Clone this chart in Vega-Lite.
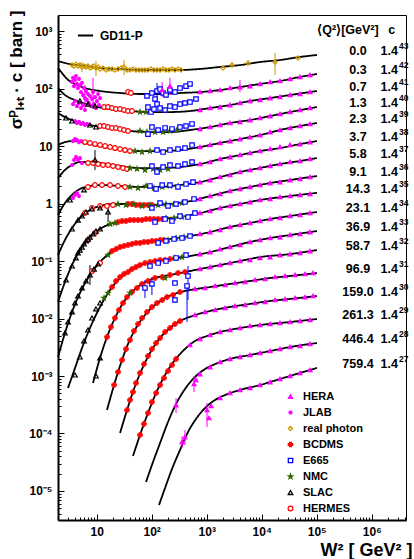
{
"$schema":"https://vega.github.io/schema/vega-lite/v6.json",
"width":348,"height":505,
"autosize":{"type":"none"},
"padding":{"left":58,"top":15,"right":8,"bottom":39},
"background":"white",
"config":{"view":{"stroke":"#000","strokeWidth":1},"font":"Liberation Sans","text":{"font":"Liberation Sans"}},
"datasets":{
"curves":[
{"q":"0.0","w":1.98,"s":301},{"q":"0.0","w":3.27,"s":266},{"q":"0.0","w":6.12,"s":246},{"q":"0.0","w":11.5,"s":227},{"q":"0.0","w":26.6,"s":218},{"q":"0.0","w":61.3,"s":210},{"q":"0.0","w":142,"s":210},{"q":"0.0","w":327,"s":210},{"q":"0.0","w":755,"s":219},{"q":"0.0","w":1750,"s":237},{"q":"0.0","w":4030,"s":256},{"q":"0.0","w":9310,"s":289},{"q":"0.0","w":21500,"s":313},{"q":"0.0","w":49700,"s":354},{"q":"0.0","w":101000,"s":383,"n":"43"},
{"q":"0.3","w":1.98,"s":227},{"q":"0.3","w":2.34,"s":186},{"q":"0.3","w":2.88,"s":147},{"q":"0.3","w":4.03,"s":120},{"q":"0.3","w":6.12,"s":102},{"q":"0.3","w":11.5,"s":90.5},{"q":"0.3","w":26.6,"s":83.6},{"q":"0.3","w":61.3,"s":80.3},{"q":"0.3","w":142,"s":80.3},{"q":"0.3","w":327,"s":83.6},{"q":"0.3","w":755,"s":86.9},{"q":"0.3","w":1750,"s":94.2},{"q":"0.3","w":4030,"s":106},{"q":"0.3","w":9310,"s":120},{"q":"0.3","w":21500,"s":135},{"q":"0.3","w":49700,"s":159},{"q":"0.3","w":101000,"s":179,"n":"42"},
{"q":"0.7","w":1.98,"s":102},{"q":"0.7","w":2.65,"s":77.1},{"q":"0.7","w":4.03,"s":63.1},{"q":"0.7","w":7.55,"s":51.6},{"q":"0.7","w":17.5,"s":44.0},{"q":"0.7","w":40.3,"s":40.6},{"q":"0.7","w":93.1,"s":39.0},{"q":"0.7","w":215,"s":39.0},{"q":"0.7","w":497,"s":40.6},{"q":"0.7","w":1150,"s":45.8},{"q":"0.7","w":2650,"s":51.6},{"q":"0.7","w":6120,"s":60.6},{"q":"0.7","w":14200,"s":68.3},{"q":"0.7","w":32700,"s":77.1},{"q":"0.7","w":101000,"s":90.5,"n":"41"},
{"q":"1.3","w":1.98,"s":37.5},{"q":"1.3","w":2.65,"s":31.9},{"q":"1.3","w":4.03,"s":27.2},{"q":"1.3","w":7.55,"s":23.2},{"q":"1.3","w":17.5,"s":20.6},{"q":"1.3","w":40.3,"s":18.3},{"q":"1.3","w":93.1,"s":17.5},{"q":"1.3","w":215,"s":17.5},{"q":"1.3","w":497,"s":19.0},{"q":"1.3","w":1150,"s":21.4},{"q":"1.3","w":2650,"s":25.1},{"q":"1.3","w":6120,"s":28.3},{"q":"1.3","w":14200,"s":33.2},{"q":"1.3","w":32700,"s":39.0},{"q":"1.3","w":101000,"s":47.6,"n":"40"},
{"q":"2.3","w":1.98,"s":10.4},{"q":"2.3","w":2.65,"s":11.7},{"q":"2.3","w":3.71,"s":12.2},{"q":"2.3","w":6.12,"s":11.3},{"q":"2.3","w":11.5,"s":9.99},{"q":"2.3","w":26.6,"s":8.86},{"q":"2.3","w":61.3,"s":8.18},{"q":"2.3","w":142,"s":8.18},{"q":"2.3","w":327,"s":8.51},{"q":"2.3","w":755,"s":9.60},{"q":"2.3","w":1750,"s":11.3},{"q":"2.3","w":4030,"s":13.2},{"q":"2.3","w":9310,"s":15.5},{"q":"2.3","w":21500,"s":19.0},{"q":"2.3","w":49700,"s":22.3},{"q":"2.3","w":101000,"s":25.1,"n":"39"},
{"q":"3.7","w":1.98,"s":2.77},{"q":"3.7","w":2.65,"s":3.83},{"q":"3.7","w":3.56,"s":4.67},{"q":"3.7","w":4.96,"s":5.27},{"q":"3.7","w":7.55,"s":5.27},{"q":"3.7","w":11.5,"s":5.06},{"q":"3.7","w":26.6,"s":4.49},{"q":"3.7","w":61.3,"s":4.14},{"q":"3.7","w":142,"s":4.14},{"q":"3.7","w":327,"s":4.31},{"q":"3.7","w":755,"s":4.86},{"q":"3.7","w":1750,"s":5.94},{"q":"3.7","w":4030,"s":6.97},{"q":"3.7","w":9310,"s":8.18},{"q":"3.7","w":21500,"s":9.22},{"q":"3.7","w":49700,"s":10.8},{"q":"3.7","w":101000,"s":12.2,"n":"38"},
{"q":"5.8","w":1.98,"s":0.631},{"q":"5.8","w":2.65,"s":1.02},{"q":"5.8","w":3.56,"s":1.41},{"q":"5.8","w":4.96,"s":1.79},{"q":"5.8","w":7.55,"s":2.02},{"q":"5.8","w":11.5,"s":2.10},{"q":"5.8","w":26.6,"s":2.02},{"q":"5.8","w":61.3,"s":1.94},{"q":"5.8","w":142,"s":1.94},{"q":"5.8","w":327,"s":2.10},{"q":"5.8","w":755,"s":2.36},{"q":"5.8","w":1750,"s":2.89},{"q":"5.8","w":4030,"s":3.54},{"q":"5.8","w":9310,"s":4.15},{"q":"5.8","w":21500,"s":4.86},{"q":"5.8","w":49700,"s":5.49},{"q":"5.8","w":101000,"s":6.18,"n":"37"},
{"q":"9.1","w":1.98,"s":0.127},{"q":"9.1","w":2.65,"s":0.232},{"q":"9.1","w":3.56,"s":0.375},{"q":"9.1","w":4.96,"s":0.559},{"q":"9.1","w":7.55,"s":0.771},{"q":"9.1","w":11.5,"s":0.905},{"q":"9.1","w":21.5,"s":0.981},{"q":"9.1","w":40.3,"s":0.981},{"q":"9.1","w":93.1,"s":0.942},{"q":"9.1","w":215,"s":0.981},{"q":"9.1","w":497,"s":1.10},{"q":"9.1","w":1150,"s":1.35},{"q":"9.1","w":2650,"s":1.65},{"q":"9.1","w":6120,"s":1.94},{"q":"9.1","w":14200,"s":2.27},{"q":"9.1","w":32700,"s":2.56},{"q":"9.1","w":101000,"s":3.01,"n":"36"},
{"q":"14.3","w":1.98,"s":0.0194},{"q":"14.3","w":2.65,"s":0.0431},{"q":"14.3","w":3.56,"s":0.0851},{"q":"14.3","w":4.96,"s":0.155},{"q":"14.3","w":7.55,"s":0.261},{"q":"14.3","w":11.5,"s":0.360},{"q":"14.3","w":17.5,"s":0.440},{"q":"14.3","w":32.7,"s":0.496},{"q":"14.3","w":61.3,"s":0.516},{"q":"14.3","w":142,"s":0.537},{"q":"14.3","w":327,"s":0.582},{"q":"14.3","w":755,"s":0.683},{"q":"14.3","w":1750,"s":0.835},{"q":"14.3","w":4030,"s":0.981},{"q":"14.3","w":9310,"s":1.15},{"q":"14.3","w":32700,"s":1.35},{"q":"14.3","w":101000,"s":1.53,"n":"35"},
{"q":"23.1","w":1.98,"s":0.00214},{"q":"23.1","w":2.65,"s":0.00559},{"q":"23.1","w":3.56,"s":0.0130},{"q":"23.1","w":4.96,"s":0.0277},{"q":"23.1","w":7.55,"s":0.0571},{"q":"23.1","w":11.5,"s":0.0960},{"q":"23.1","w":17.5,"s":0.138},{"q":"23.1","w":26.6,"s":0.175},{"q":"23.1","w":49.7,"s":0.206},{"q":"23.1","w":93.1,"s":0.223},{"q":"23.1","w":215,"s":0.242},{"q":"23.1","w":497,"s":0.272},{"q":"23.1","w":1150,"s":0.319},{"q":"23.1","w":2650,"s":0.390},{"q":"23.1","w":6120,"s":0.458},{"q":"23.1","w":14200,"s":0.537},{"q":"23.1","w":32700,"s":0.606},{"q":"23.1","w":101000,"s":0.712,"n":"34"},
{"q":"36.9","w":3.01,"s":0.000618},{"q":"36.9","w":4.03,"s":0.00137},{"q":"36.9","w":5.40,"s":0.00306},{"q":"36.9","w":7.55,"s":0.00683},{"q":"36.9","w":11.5,"s":0.0159},{"q":"36.9","w":17.5,"s":0.0313},{"q":"36.9","w":26.6,"s":0.0506},{"q":"36.9","w":40.3,"s":0.0697},{"q":"36.9","w":61.3,"s":0.0851},{"q":"36.9","w":115,"s":0.0999},{"q":"36.9","w":215,"s":0.108},{"q":"36.9","w":497,"s":0.122},{"q":"36.9","w":1150,"s":0.143},{"q":"36.9","w":2650,"s":0.175},{"q":"36.9","w":6120,"s":0.214},{"q":"36.9","w":14200,"s":0.251},{"q":"36.9","w":32700,"s":0.283},{"q":"36.9","w":101000,"s":0.332,"n":"33"},
{"q":"58.7","w":8.57,"s":0.000755},{"q":"58.7","w":11.5,"s":0.00206},{"q":"58.7","w":15.4,"s":0.00476},{"q":"58.7","w":21.5,"s":0.0102},{"q":"58.7","w":30.1,"s":0.0186},{"q":"58.7","w":43.8,"s":0.0289},{"q":"58.7","w":66.7,"s":0.0399},{"q":"58.7","w":115,"s":0.0506},{"q":"58.7","w":215,"s":0.0571},{"q":"58.7","w":403,"s":0.0643},{"q":"58.7","w":755,"s":0.0726},{"q":"58.7","w":1750,"s":0.0851},{"q":"58.7","w":4030,"s":0.0999},{"q":"58.7","w":9310,"s":0.117},{"q":"58.7","w":32700,"s":0.132},{"q":"58.7","w":101000,"s":0.155,"n":"32"},
{"q":"96.9","w":15.4,"s":0.000256},{"q":"96.9","w":20.7,"s":0.000697},{"q":"96.9","w":27.7,"s":0.00169},{"q":"96.9","w":37.1,"s":0.00360},{"q":"96.9","w":51.8,"s":0.00683},{"q":"96.9","w":75.5,"s":0.0115},{"q":"96.9","w":115,"s":0.0172},{"q":"96.9","w":175,"s":0.0227},{"q":"96.9","w":288,"s":0.0277},{"q":"96.9","w":497,"s":0.0313},{"q":"96.9","w":1150,"s":0.0353},{"q":"96.9","w":2650,"s":0.0399},{"q":"96.9","w":6120,"s":0.0449},{"q":"96.9","w":14200,"s":0.0506},{"q":"96.9","w":32700,"s":0.0549},{"q":"96.9","w":101000,"s":0.0618,"n":"31"},
{"q":"159.0","w":26.6,"s":0.000102},{"q":"159.0","w":35.6,"s":0.000256},{"q":"159.0","w":47.6,"s":0.000594},{"q":"159.0","w":66.7,"s":0.00132},{"q":"159.0","w":93.1,"s":0.00251},{"q":"159.0","w":142,"s":0.00458},{"q":"159.0","w":215,"s":0.00683},{"q":"159.0","w":327,"s":0.00905},{"q":"159.0","w":541,"s":0.0110},{"q":"159.0","w":1150,"s":0.0135},{"q":"159.0","w":2650,"s":0.0159},{"q":"159.0","w":6120,"s":0.0179},{"q":"159.0","w":14200,"s":0.0202},{"q":"159.0","w":32700,"s":0.0219},{"q":"159.0","w":101000,"s":0.0246,"n":"30"},
{"q":"261.3","w":45.7,"s":0.0000406},{"q":"261.3","w":61.3,"s":0.0000942},{"q":"261.3","w":85.6,"s":0.000227},{"q":"261.3","w":120,"s":0.000506},{"q":"261.3","w":175,"s":0.00104},{"q":"261.3","w":265,"s":0.00190},{"q":"261.3","w":403,"s":0.00295},{"q":"261.3","w":612,"s":0.00406},{"q":"261.3","w":1013,"s":0.00496},{"q":"261.3","w":1750,"s":0.00582},{"q":"261.3","w":4030,"s":0.00683},{"q":"261.3","w":9310,"s":0.00771},{"q":"261.3","w":32700,"s":0.00869},{"q":"261.3","w":101000,"s":0.00981,"n":"29"},
{"q":"446.4","w":78.8,"s":0.0000143},{"q":"446.4","w":101,"s":0.0000283},{"q":"446.4","w":142,"s":0.0000683},{"q":"446.4","w":198,"s":0.000159},{"q":"446.4","w":277,"s":0.000326},{"q":"446.4","w":403,"s":0.000594},{"q":"446.4","w":612,"s":0.000960},{"q":"446.4","w":932,"s":0.00132},{"q":"446.4","w":1420,"s":0.00161},{"q":"446.4","w":2650,"s":0.00198},{"q":"446.4","w":6120,"s":0.00232},{"q":"446.4","w":14200,"s":0.00272},{"q":"446.4","w":32700,"s":0.00319},{"q":"446.4","w":101000,"s":0.00375,"n":"28"},
{"q":"759.4","w":136,"s":0.00000571},{"q":"759.4","w":175,"s":0.0000113},{"q":"759.4","w":234,"s":0.0000242},{"q":"759.4","w":327,"s":0.0000516},{"q":"759.4","w":457,"s":0.000106},{"q":"759.4","w":639,"s":0.000179},{"q":"759.4","w":932,"s":0.000277},{"q":"759.4","w":1420,"s":0.000383},{"q":"759.4","w":2160,"s":0.000467},{"q":"759.4","w":4030,"s":0.000571},{"q":"759.4","w":9310,"s":0.000697},{"q":"759.4","w":21500,"s":0.000886},{"q":"759.4","w":49700,"s":0.00113},{"q":"759.4","w":101000,"s":0.00138,"n":"27"}
],
"pts":[
{"e":"real photon","w":3.56,"s":256},{"e":"real photon","w":3.87,"s":246},{"e":"real photon","w":4.20,"s":266},{"e":"real photon","w":4.57,"s":246},{"e":"real photon","w":4.96,"s":256},{"e":"real photon","w":5.40,"s":237,"lo":194,"hi":289},{"e":"real photon","w":5.88,"s":246},{"e":"real photon","w":6.39,"s":237},{"e":"real photon","w":6.95,"s":246},{"e":"real photon","w":7.55,"s":227},{"e":"real photon","w":8.21,"s":237},{"e":"real photon","w":8.93,"s":246},{"e":"real photon","w":9.71,"s":227,"lo":165,"hi":301},{"e":"real photon","w":10.6,"s":237},{"e":"real photon","w":11.5,"s":218},{"e":"real photon","w":13.0,"s":227},{"e":"real photon","w":14.8,"s":210},{"e":"real photon","w":16.7,"s":218},{"e":"real photon","w":19.0,"s":218},{"e":"real photon","w":21.5,"s":210},{"e":"real photon","w":24.4,"s":218},{"e":"real photon","w":27.7,"s":227},{"e":"real photon","w":31.4,"s":237,"lo":172,"hi":313},{"e":"real photon","w":35.6,"s":210},{"e":"real photon","w":40.3,"s":210},{"e":"real photon","w":45.7,"s":218},{"e":"real photon","w":51.8,"s":210},{"e":"real photon","w":58.8,"s":210},{"e":"real photon","w":66.7,"s":210},{"e":"real photon","w":75.5,"s":210},{"e":"real photon","w":85.6,"s":210},{"e":"real photon","w":97.1,"s":218},{"e":"real photon","w":110,"s":210},{"e":"real photon","w":125,"s":210},{"e":"real photon","w":142,"s":210},{"e":"real photon","w":161,"s":218},{"e":"real photon","w":182,"s":210},{"e":"real photon","w":206,"s":210},{"e":"real photon","w":234,"s":218},{"e":"real photon","w":265,"s":210},{"e":"real photon","w":301,"s":218},{"e":"real photon","w":341,"s":210},{"e":"real photon","w":1980,"s":227},{"e":"real photon","w":2880,"s":256,"lo":227,"hi":289},{"e":"real photon","w":5640,"s":277,"lo":246,"hi":313},{"e":"real photon","w":17500,"s":289,"lo":172,"hi":415},{"e":"real photon","w":45700,"s":339},
{"e":"JLAB","w":3.56,"s":130},{"e":"JLAB","w":3.71,"s":153},{"e":"JLAB","w":3.87,"s":110},{"e":"JLAB","w":4.03,"s":141},{"e":"JLAB","w":4.20,"s":165},{"e":"JLAB","w":4.38,"s":120},{"e":"JLAB","w":4.57,"s":102},{"e":"JLAB","w":4.77,"s":147},{"e":"JLAB","w":4.96,"s":115},{"e":"JLAB","w":5.18,"s":86.9},{"e":"JLAB","w":5.40,"s":125},{"e":"JLAB","w":5.63,"s":77.1},{"e":"JLAB","w":5.88,"s":102},{"e":"JLAB","w":6.12,"s":68.3,"lo":45.8,"hi":115},{"e":"JLAB","w":6.39,"s":90.5},{"e":"JLAB","w":6.66,"s":63.1},{"e":"JLAB","w":6.95,"s":80.3},{"e":"JLAB","w":7.24,"s":56.0},{"e":"JLAB","w":7.55,"s":74.1},{"e":"JLAB","w":7.88,"s":49.6},{"e":"JLAB","w":8.21,"s":65.7},{"e":"JLAB","w":8.57,"s":86.9,"lo":51.6,"hi":153},{"e":"JLAB","w":8.93,"s":53.7},{"e":"JLAB","w":9.31,"s":71.1},{"e":"JLAB","w":9.71,"s":45.8},{"e":"JLAB","w":10.1,"s":60.6},{"e":"JLAB","w":10.6,"s":80.3},{"e":"JLAB","w":11.0,"s":51.6},{"e":"JLAB","w":11.5,"s":68.3},
{"e":"JLAB","w":3.71,"s":53.7},{"e":"JLAB","w":4.03,"s":60.6},{"e":"JLAB","w":4.38,"s":49.6},{"e":"JLAB","w":4.77,"s":56.0},{"e":"JLAB","w":5.18,"s":45.8},{"e":"JLAB","w":5.63,"s":51.6},{"e":"JLAB","w":6.12,"s":42.3},
{"e":"JLAB","w":4.03,"s":27.2},{"e":"JLAB","w":4.38,"s":25.1},{"e":"JLAB","w":4.77,"s":26.2},{"e":"JLAB","w":5.18,"s":24.2},{"e":"JLAB","w":5.63,"s":25.1},{"e":"JLAB","w":6.12,"s":23.2},{"e":"JLAB","w":6.66,"s":24.2},
{"e":"JLAB","w":3.71,"s":12.2},{"e":"JLAB","w":4.03,"s":13.2},{"e":"JLAB","w":4.38,"s":12.7},{"e":"JLAB","w":4.77,"s":11.7},{"e":"JLAB","w":5.18,"s":12.2},
{"e":"JLAB","w":3.56,"s":4.67},{"e":"JLAB","w":3.87,"s":5.71},{"e":"JLAB","w":4.20,"s":6.43},{"e":"JLAB","w":4.57,"s":5.71},{"e":"JLAB","w":4.96,"s":6.18},{"e":"JLAB","w":5.40,"s":5.06},
{"e":"JLAB","w":3.71,"s":1.25},{"e":"JLAB","w":4.03,"s":1.41},{"e":"JLAB","w":4.38,"s":1.53},{"e":"JLAB","w":4.77,"s":1.35},
{"e":"HERMES","w":37.1,"s":86.9},{"e":"HERMES","w":42.0,"s":83.6},
{"e":"HERMES","w":13.6,"s":47.6},{"e":"HERMES","w":16.1,"s":47.6},{"e":"HERMES","w":19.0,"s":45.8},{"e":"HERMES","w":22.4,"s":44.0},{"e":"HERMES","w":26.6,"s":44.0},{"e":"HERMES","w":31.4,"s":42.3},{"e":"HERMES","w":37.1,"s":40.6},{"e":"HERMES","w":43.8,"s":40.6},
{"e":"HERMES","w":11.5,"s":22.3},{"e":"HERMES","w":13.6,"s":22.3},{"e":"HERMES","w":16.1,"s":21.4},{"e":"HERMES","w":19.0,"s":20.6},{"e":"HERMES","w":22.4,"s":20.6},{"e":"HERMES","w":26.6,"s":19.8},{"e":"HERMES","w":31.4,"s":19.0},{"e":"HERMES","w":37.1,"s":18.3},
{"e":"HERMES","w":6.12,"s":11.7},{"e":"HERMES","w":7.55,"s":11.3},{"e":"HERMES","w":9.31,"s":10.8},{"e":"HERMES","w":11.5,"s":10.4},{"e":"HERMES","w":14.2,"s":9.99},{"e":"HERMES","w":17.5,"s":9.60},{"e":"HERMES","w":21.5,"s":9.22},{"e":"HERMES","w":26.6,"s":8.86},{"e":"HERMES","w":32.7,"s":8.51},{"e":"HERMES","w":40.3,"s":8.18},
{"e":"HERMES","w":6.95,"s":5.06},{"e":"HERMES","w":8.57,"s":5.06},{"e":"HERMES","w":10.6,"s":4.86},{"e":"HERMES","w":13.0,"s":4.67},{"e":"HERMES","w":16.1,"s":4.67},{"e":"HERMES","w":19.8,"s":4.49},{"e":"HERMES","w":24.4,"s":4.31},{"e":"HERMES","w":30.1,"s":4.14},{"e":"HERMES","w":35.6,"s":3.99},
{"e":"HERMES","w":6.95,"s":1.94},{"e":"HERMES","w":9.31,"s":2.10},{"e":"HERMES","w":12.5,"s":2.10},{"e":"HERMES","w":17.5,"s":2.10},{"e":"HERMES","w":24.4,"s":2.02},{"e":"HERMES","w":32.7,"s":1.94},
{"e":"HERMES","w":6.12,"s":0.683},{"e":"HERMES","w":8.21,"s":0.835},{"e":"HERMES","w":11.5,"s":0.905},{"e":"HERMES","w":15.4,"s":0.905},{"e":"HERMES","w":19.8,"s":0.942},
{"e":"HERMES","w":6.95,"s":0.232},{"e":"HERMES","w":9.31,"s":0.307},
{"e":"HERMES","w":8.21,"s":0.0669},{"e":"HERMES","w":11.5,"s":0.0922},
{"e":"SLAC","w":4.96,"s":60.6},{"e":"SLAC","w":6.95,"s":53.7},{"e":"SLAC","w":9.31,"s":49.6},
{"e":"SLAC","w":2.77,"s":30.7},{"e":"SLAC","w":3.56,"s":27.2},{"e":"SLAC","w":7.55,"s":23.2},{"e":"SLAC","w":9.71,"s":21.4},
{"e":"SLAC","w":9.31,"s":5.71,"lo":3.83,"hi":8.51},
{"e":"SLAC","w":3.27,"s":1.15},{"e":"SLAC","w":5.88,"s":1.72},
{"e":"SLAC","w":3.56,"s":0.360},{"e":"SLAC","w":4.57,"s":0.516},{"e":"SLAC","w":5.40,"s":0.606},{"e":"SLAC","w":6.39,"s":0.712},{"e":"SLAC","w":8.21,"s":0.803},{"e":"SLAC","w":11.5,"s":0.835},{"e":"SLAC","w":16.1,"s":0.712,"lo":0.476,"hi":1.02},
{"e":"SLAC","w":2.77,"s":0.0467},{"e":"SLAC","w":3.56,"s":0.0818},{"e":"SLAC","w":4.20,"s":0.113},{"e":"SLAC","w":4.57,"s":0.138},{"e":"SLAC","w":4.96,"s":0.155},{"e":"SLAC","w":5.40,"s":0.175},{"e":"SLAC","w":5.88,"s":0.198},{"e":"SLAC","w":6.39,"s":0.223},{"e":"SLAC","w":6.95,"s":0.241},{"e":"SLAC","w":7.55,"s":0.261},{"e":"SLAC","w":8.57,"s":0.295},{"e":"SLAC","w":9.71,"s":0.332},{"e":"SLAC","w":11.5,"s":0.360},
{"e":"SLAC","w":2.65,"s":0.00559},{"e":"SLAC","w":3.01,"s":0.00869},{"e":"SLAC","w":3.56,"s":0.0130},{"e":"SLAC","w":4.03,"s":0.0186},{"e":"SLAC","w":4.57,"s":0.0246},{"e":"SLAC","w":5.40,"s":0.0340},{"e":"SLAC","w":6.39,"s":0.0449},{"e":"SLAC","w":7.55,"s":0.0571,"lo":0.0383,"hi":0.0851},{"e":"SLAC","w":8.93,"s":0.0725},{"e":"SLAC","w":10.6,"s":0.0886},
{"e":"SLAC","w":4.03,"s":0.00104},{"e":"SLAC","w":4.96,"s":0.00214},{"e":"SLAC","w":5.88,"s":0.00406},{"e":"SLAC","w":6.95,"s":0.00631},{"e":"SLAC","w":8.21,"s":0.0102},{"e":"SLAC","w":9.71,"s":0.0147},{"e":"SLAC","w":11.5,"s":0.0186},
{"e":"SLAC","w":9.71,"s":0.000999},{"e":"SLAC","w":11.5,"s":0.00206},
{"e":"BCDMS","w":37.1,"s":0.981},{"e":"BCDMS","w":43.8,"s":0.981},{"e":"BCDMS","w":51.8,"s":0.942},{"e":"BCDMS","w":61.3,"s":0.942},{"e":"BCDMS","w":72.4,"s":0.942},{"e":"BCDMS","w":85.6,"s":0.942},{"e":"BCDMS","w":101,"s":0.942},
{"e":"BCDMS","w":24.4,"s":0.476},{"e":"BCDMS","w":28.9,"s":0.496},{"e":"BCDMS","w":34.1,"s":0.496},{"e":"BCDMS","w":40.3,"s":0.516},{"e":"BCDMS","w":47.6,"s":0.516},{"e":"BCDMS","w":56.4,"s":0.516},{"e":"BCDMS","w":66.7,"s":0.516},{"e":"BCDMS","w":78.8,"s":0.537},{"e":"BCDMS","w":93.1,"s":0.537},{"e":"BCDMS","w":110,"s":0.537},{"e":"BCDMS","w":131,"s":0.537},{"e":"BCDMS","w":155,"s":0.537},
{"e":"BCDMS","w":19.0,"s":0.149},{"e":"BCDMS","w":22.4,"s":0.161},{"e":"BCDMS","w":26.6,"s":0.175},{"e":"BCDMS","w":31.4,"s":0.183},{"e":"BCDMS","w":37.1,"s":0.190},{"e":"BCDMS","w":43.8,"s":0.198},{"e":"BCDMS","w":51.8,"s":0.206},{"e":"BCDMS","w":61.3,"s":0.206},{"e":"BCDMS","w":72.4,"s":0.214},{"e":"BCDMS","w":85.6,"s":0.214},{"e":"BCDMS","w":101,"s":0.223},{"e":"BCDMS","w":120,"s":0.223},{"e":"BCDMS","w":142,"s":0.232},{"e":"BCDMS","w":167,"s":0.232},
{"e":"BCDMS","w":19.0,"s":0.0353},{"e":"BCDMS","w":22.4,"s":0.0449},{"e":"BCDMS","w":26.6,"s":0.0527},{"e":"BCDMS","w":31.4,"s":0.0594},{"e":"BCDMS","w":37.1,"s":0.0643},{"e":"BCDMS","w":43.8,"s":0.0725},{"e":"BCDMS","w":51.8,"s":0.0785},{"e":"BCDMS","w":61.3,"s":0.0851},{"e":"BCDMS","w":75.5,"s":0.0922},{"e":"BCDMS","w":93.1,"s":0.0960},{"e":"BCDMS","w":115,"s":0.0999},{"e":"BCDMS","w":142,"s":0.104},{"e":"BCDMS","w":175,"s":0.104},{"e":"BCDMS","w":215,"s":0.108},
{"e":"BCDMS","w":15.4,"s":0.00476},{"e":"BCDMS","w":18.2,"s":0.00712},{"e":"BCDMS","w":21.5,"s":0.0102},{"e":"BCDMS","w":25.4,"s":0.0141},{"e":"BCDMS","w":30.1,"s":0.0186},{"e":"BCDMS","w":35.6,"s":0.0236},{"e":"BCDMS","w":43.8,"s":0.0289},{"e":"BCDMS","w":54.0,"s":0.0340},{"e":"BCDMS","w":66.7,"s":0.0398},{"e":"BCDMS","w":85.6,"s":0.0449},{"e":"BCDMS","w":115,"s":0.0506},{"e":"BCDMS","w":155,"s":0.0527},{"e":"BCDMS","w":215,"s":0.0571},{"e":"BCDMS","w":301,"s":0.0618},{"e":"BCDMS","w":403,"s":0.0643},
{"e":"BCDMS","w":20.7,"s":0.000697},{"e":"BCDMS","w":24.4,"s":0.00117},{"e":"BCDMS","w":28.9,"s":0.00190},{"e":"BCDMS","w":34.1,"s":0.00295},{"e":"BCDMS","w":40.3,"s":0.00423},{"e":"BCDMS","w":47.6,"s":0.00606},{"e":"BCDMS","w":56.4,"s":0.00803},{"e":"BCDMS","w":66.7,"s":0.0102},{"e":"BCDMS","w":82.1,"s":0.0130},{"e":"BCDMS","w":101,"s":0.0159},{"e":"BCDMS","w":125,"s":0.0186},{"e":"BCDMS","w":155,"s":0.0210},{"e":"BCDMS","w":190,"s":0.0236},{"e":"BCDMS","w":244,"s":0.0256},{"e":"BCDMS","w":327,"s":0.0289},
{"e":"BCDMS","w":35.6,"s":0.000256},{"e":"BCDMS","w":40.3,"s":0.000383},{"e":"BCDMS","w":45.7,"s":0.000527},{"e":"BCDMS","w":51.8,"s":0.000755},{"e":"BCDMS","w":61.3,"s":0.00113},{"e":"BCDMS","w":72.4,"s":0.00161},{"e":"BCDMS","w":85.6,"s":0.00223},{"e":"BCDMS","w":101,"s":0.00295},{"e":"BCDMS","w":120,"s":0.00375},{"e":"BCDMS","w":142,"s":0.00458},{"e":"BCDMS","w":175,"s":0.00582},{"e":"BCDMS","w":215,"s":0.00683},{"e":"BCDMS","w":265,"s":0.00803},{"e":"BCDMS","w":327,"s":0.00905},
{"e":"BCDMS","w":61.3,"s":0.0000942},{"e":"BCDMS","w":72.4,"s":0.000147},{"e":"BCDMS","w":85.6,"s":0.000227},{"e":"BCDMS","w":101,"s":0.000353},{"e":"BCDMS","w":120,"s":0.000506},{"e":"BCDMS","w":142,"s":0.000697},{"e":"BCDMS","w":167,"s":0.000922},{"e":"BCDMS","w":198,"s":0.00122},{"e":"BCDMS","w":234,"s":0.00155},{"e":"BCDMS","w":277,"s":0.00198},
{"e":"NMC","w":61.3,"s":39.0},{"e":"NMC","w":78.8,"s":39.0},
{"e":"NMC","w":61.3,"s":18.3},{"e":"NMC","w":82.1,"s":17.5},{"e":"NMC","w":115,"s":17.5},{"e":"NMC","w":161,"s":17.5},{"e":"NMC","w":215,"s":18.3},{"e":"NMC","w":288,"s":19.0},
{"e":"NMC","w":49.7,"s":8.18},{"e":"NMC","w":66.7,"s":7.85},{"e":"NMC","w":93.1,"s":8.18},
{"e":"NMC","w":40.3,"s":4.14},{"e":"NMC","w":54.0,"s":3.99},{"e":"NMC","w":75.5,"s":3.83},{"e":"NMC","w":106,"s":3.99},{"e":"NMC","w":142,"s":3.83},{"e":"NMC","w":198,"s":3.99},
{"e":"NMC","w":40.3,"s":1.94},{"e":"NMC","w":56.4,"s":1.86},{"e":"NMC","w":78.8,"s":2.02},{"e":"NMC","w":110,"s":1.86},{"e":"NMC","w":155,"s":1.94},{"e":"NMC","w":215,"s":2.02},{"e":"NMC","w":301,"s":2.02},
{"e":"NMC","w":24.4,"s":0.981},{"e":"NMC","w":34.1,"s":0.942},{"e":"NMC","w":47.6,"s":0.981},{"e":"NMC","w":66.7,"s":0.905},{"e":"NMC","w":93.1,"s":0.942},{"e":"NMC","w":131,"s":0.942},{"e":"NMC","w":182,"s":0.981},{"e":"NMC","w":255,"s":0.981},{"e":"NMC","w":356,"s":1.02},
{"e":"NMC","w":17.5,"s":0.440},{"e":"NMC","w":21.5,"s":0.458},{"e":"NMC","w":182,"s":0.559},{"e":"NMC","w":255,"s":0.559},{"e":"NMC","w":356,"s":0.582},
{"e":"NMC","w":16.1,"s":0.127},{"e":"NMC","w":198,"s":0.232},{"e":"NMC","w":277,"s":0.251},{"e":"NMC","w":387,"s":0.261},
{"e":"NMC","w":13.6,"s":0.0227},{"e":"NMC","w":16.1,"s":0.0278},{"e":"NMC","w":265,"s":0.113},{"e":"NMC","w":356,"s":0.117},
{"e":"NMC","w":40.3,"s":0.0278},{"e":"NMC","w":175,"s":0.0506},
{"e":"E665","w":82.1,"s":74.1},{"e":"E665","w":101,"s":83.6},{"e":"E665","w":115,"s":65.7},{"e":"E665","w":125,"s":90.5,"lo":51.6,"hi":125},{"e":"E665","w":142,"s":98.0},{"e":"E665","w":161,"s":83.6},{"e":"E665","w":182,"s":77.1},{"e":"E665","w":215,"s":94.2},{"e":"E665","w":265,"s":86.9},{"e":"E665","w":327,"s":102},{"e":"E665","w":421,"s":110},{"e":"E665","w":497,"s":120},
{"e":"E665","w":85.6,"s":47.6},{"e":"E665","w":97.1,"s":39.0},{"e":"E665","w":110,"s":44.0},{"e":"E665","w":125,"s":53.7},{"e":"E665","w":142,"s":45.8},{"e":"E665","w":175,"s":42.3},{"e":"E665","w":215,"s":49.6},{"e":"E665","w":265,"s":47.6},{"e":"E665","w":327,"s":53.7},{"e":"E665","w":403,"s":56.0},{"e":"E665","w":497,"s":58.2},{"e":"E665","w":639,"s":65.7},
{"e":"E665","w":85.6,"s":16.1},{"e":"E665","w":101,"s":21.4},{"e":"E665","w":131,"s":19.0},{"e":"E665","w":175,"s":20.6},{"e":"E665","w":234,"s":19.8},{"e":"E665","w":327,"s":21.4},{"e":"E665","w":421,"s":22.3},{"e":"E665","w":541,"s":24.2},
{"e":"E665","w":125,"s":8.51},{"e":"E665","w":161,"s":7.85},{"e":"E665","w":215,"s":8.51},{"e":"E665","w":301,"s":8.86},{"e":"E665","w":403,"s":9.22},{"e":"E665","w":541,"s":10.4},
{"e":"E665","w":101,"s":4.49},{"e":"E665","w":125,"s":3.54},{"e":"E665","w":161,"s":4.31},{"e":"E665","w":215,"s":4.67},{"e":"E665","w":301,"s":4.49},{"e":"E665","w":403,"s":4.86},{"e":"E665","w":541,"s":5.27},
{"e":"E665","w":93.1,"s":2.02},{"e":"E665","w":120,"s":1.79},{"e":"E665","w":155,"s":2.10},{"e":"E665","w":215,"s":2.10},{"e":"E665","w":301,"s":1.94},{"e":"E665","w":421,"s":2.18},{"e":"E665","w":564,"s":2.36},
{"e":"E665","w":101,"s":0.835},{"e":"E665","w":142,"s":1.02},{"e":"E665","w":198,"s":0.905},{"e":"E665","w":277,"s":0.981},{"e":"E665","w":403,"s":1.06},{"e":"E665","w":588,"s":1.20},
{"e":"E665","w":115,"s":0.476},{"e":"E665","w":175,"s":0.537},{"e":"E665","w":234,"s":0.496},{"e":"E665","w":327,"s":0.606},{"e":"E665","w":457,"s":0.582},{"e":"E665","w":612,"s":0.683},
{"e":"E665","w":131,"s":0.206},{"e":"E665","w":182,"s":0.223},{"e":"E665","w":255,"s":0.241},{"e":"E665","w":356,"s":0.251},{"e":"E665","w":497,"s":0.272},
{"e":"E665","w":93.1,"s":0.0818},{"e":"E665","w":131,"s":0.0922},{"e":"E665","w":182,"s":0.0999},{"e":"E665","w":277,"s":0.113},{"e":"E665","w":421,"s":0.127},
{"e":"E665","w":75.5,"s":0.0340,"lo":0.0227,"hi":0.0467},{"e":"E665","w":101,"s":0.0398,"lo":0.0256,"hi":0.0527},{"e":"E665","w":265,"s":0.0414},{"e":"E665","w":457,"s":0.0548,"lo":0.0210,"hi":0.0818},
{"e":"E665","w":439,"s":0.0368,"lo":0.00869,"hi":0.0414},{"e":"E665","w":265,"s":0.0210},
{"e":"HERA","w":755,"s":86.9},{"e":"HERA","w":1150,"s":90.5},{"e":"HERA","w":1750,"s":94.2},{"e":"HERA","w":2650,"s":102},{"e":"HERA","w":4030,"s":106,"lo":86.9,"hi":141},{"e":"HERA","w":6120,"s":110},{"e":"HERA","w":9310,"s":120},{"e":"HERA","w":14200,"s":130},{"e":"HERA","w":21500,"s":135},{"e":"HERA","w":32700,"s":147},{"e":"HERA","w":49700,"s":159},{"e":"HERA","w":75500,"s":172},{"e":"HERA","w":155,"s":94.2,"lo":71.1,"hi":130},{"e":"HERA","w":215,"s":110,"lo":77.1,"hi":153},
{"e":"HERA","w":755,"s":42.3},{"e":"HERA","w":1150,"s":45.8},{"e":"HERA","w":1750,"s":47.6},{"e":"HERA","w":2650,"s":51.6},{"e":"HERA","w":4030,"s":56.0},{"e":"HERA","w":6120,"s":60.6},{"e":"HERA","w":9310,"s":63.1},{"e":"HERA","w":14200,"s":68.3},{"e":"HERA","w":21500,"s":71.1},{"e":"HERA","w":32700,"s":77.1},{"e":"HERA","w":49700,"s":80.3},{"e":"HERA","w":75500,"s":86.9},
{"e":"HERA","w":755,"s":19.8},{"e":"HERA","w":1150,"s":21.4},{"e":"HERA","w":1750,"s":23.2},{"e":"HERA","w":2650,"s":25.1},{"e":"HERA","w":4030,"s":26.2},{"e":"HERA","w":6120,"s":28.3},{"e":"HERA","w":9310,"s":30.7},{"e":"HERA","w":14200,"s":33.2},{"e":"HERA","w":21500,"s":36.0},{"e":"HERA","w":32700,"s":39.0},{"e":"HERA","w":49700,"s":42.3},{"e":"HERA","w":75500,"s":45.8},
{"e":"HERA","w":755,"s":9.60},{"e":"HERA","w":1150,"s":10.4},{"e":"HERA","w":1750,"s":11.3},{"e":"HERA","w":2650,"s":12.2},{"e":"HERA","w":4030,"s":13.2},{"e":"HERA","w":6120,"s":14.3},{"e":"HERA","w":9310,"s":15.5},{"e":"HERA","w":14200,"s":17.5},{"e":"HERA","w":21500,"s":19.0},{"e":"HERA","w":32700,"s":20.6},{"e":"HERA","w":49700,"s":22.3},{"e":"HERA","w":75500,"s":24.2},
{"e":"HERA","w":755,"s":4.86},{"e":"HERA","w":1150,"s":5.27},{"e":"HERA","w":1750,"s":5.94},{"e":"HERA","w":2650,"s":6.43},{"e":"HERA","w":4030,"s":6.97},{"e":"HERA","w":6120,"s":7.55},{"e":"HERA","w":9310,"s":8.18},{"e":"HERA","w":14200,"s":8.86},{"e":"HERA","w":21500,"s":9.60},{"e":"HERA","w":32700,"s":10.4},{"e":"HERA","w":49700,"s":10.8},{"e":"HERA","w":75500,"s":11.7},
{"e":"HERA","w":755,"s":2.36},{"e":"HERA","w":1150,"s":2.56},{"e":"HERA","w":1750,"s":2.89},{"e":"HERA","w":2650,"s":3.13},{"e":"HERA","w":4030,"s":3.54},{"e":"HERA","w":6120,"s":3.83},{"e":"HERA","w":9310,"s":4.15},{"e":"HERA","w":14200,"s":4.49},{"e":"HERA","w":21500,"s":4.86},{"e":"HERA","w":32700,"s":5.27},{"e":"HERA","w":49700,"s":5.49},{"e":"HERA","w":75500,"s":5.94},
{"e":"HERA","w":755,"s":1.20},{"e":"HERA","w":1150,"s":1.35},{"e":"HERA","w":1750,"s":1.47},{"e":"HERA","w":2650,"s":1.65},{"e":"HERA","w":4030,"s":1.79},{"e":"HERA","w":6120,"s":1.94},{"e":"HERA","w":9310,"s":2.10},{"e":"HERA","w":14200,"s":2.27},{"e":"HERA","w":21500,"s":2.36},{"e":"HERA","w":32700,"s":2.56},{"e":"HERA","w":49700,"s":2.67},{"e":"HERA","w":75500,"s":2.89},
{"e":"HERA","w":755,"s":0.683},{"e":"HERA","w":1150,"s":0.741},{"e":"HERA","w":1750,"s":0.835},{"e":"HERA","w":2650,"s":0.905},{"e":"HERA","w":4030,"s":0.981},{"e":"HERA","w":6120,"s":1.06},{"e":"HERA","w":9310,"s":1.15},{"e":"HERA","w":14200,"s":1.20},{"e":"HERA","w":21500,"s":1.30},{"e":"HERA","w":32700,"s":1.35},{"e":"HERA","w":49700,"s":1.41},{"e":"HERA","w":75500,"s":1.47},
{"e":"HERA","w":755,"s":0.295},{"e":"HERA","w":1150,"s":0.319},{"e":"HERA","w":1750,"s":0.346},{"e":"HERA","w":2650,"s":0.390},{"e":"HERA","w":4030,"s":0.423},{"e":"HERA","w":6120,"s":0.458},{"e":"HERA","w":9310,"s":0.496},{"e":"HERA","w":14200,"s":0.537},{"e":"HERA","w":21500,"s":0.559},{"e":"HERA","w":32700,"s":0.606},{"e":"HERA","w":49700,"s":0.631},{"e":"HERA","w":75500,"s":0.683},
{"e":"HERA","w":755,"s":0.132},{"e":"HERA","w":1150,"s":0.143},{"e":"HERA","w":1750,"s":0.161},{"e":"HERA","w":2650,"s":0.175},{"e":"HERA","w":4030,"s":0.190},{"e":"HERA","w":6120,"s":0.214},{"e":"HERA","w":9310,"s":0.232},{"e":"HERA","w":14200,"s":0.251},{"e":"HERA","w":21500,"s":0.261},{"e":"HERA","w":32700,"s":0.283},{"e":"HERA","w":49700,"s":0.295},{"e":"HERA","w":75500,"s":0.319},
{"e":"HERA","w":755,"s":0.0725},{"e":"HERA","w":1150,"s":0.0785},{"e":"HERA","w":1750,"s":0.0851},{"e":"HERA","w":2650,"s":0.0922},{"e":"HERA","w":4030,"s":0.0999},{"e":"HERA","w":6120,"s":0.104},{"e":"HERA","w":9310,"s":0.113},{"e":"HERA","w":14200,"s":0.117},{"e":"HERA","w":21500,"s":0.127},{"e":"HERA","w":32700,"s":0.132},{"e":"HERA","w":49700,"s":0.138},{"e":"HERA","w":75500,"s":0.149},
{"e":"HERA","w":612,"s":0.0326},{"e":"HERA","w":932,"s":0.0340},{"e":"HERA","w":1420,"s":0.0368},{"e":"HERA","w":2160,"s":0.0383},{"e":"HERA","w":3270,"s":0.0414},{"e":"HERA","w":4970,"s":0.0431},{"e":"HERA","w":7550,"s":0.0467},{"e":"HERA","w":11500,"s":0.0486},{"e":"HERA","w":17500,"s":0.0527},{"e":"HERA","w":26600,"s":0.0548},{"e":"HERA","w":40300,"s":0.0571},{"e":"HERA","w":61300,"s":0.0594},{"e":"HERA","w":85700,"s":0.0618},
{"e":"HERA","w":612,"s":0.0115},{"e":"HERA","w":932,"s":0.0130},{"e":"HERA","w":1420,"s":0.0141},{"e":"HERA","w":2160,"s":0.0153},{"e":"HERA","w":3270,"s":0.0165},{"e":"HERA","w":4970,"s":0.0172},{"e":"HERA","w":7550,"s":0.0186},{"e":"HERA","w":11500,"s":0.0194},{"e":"HERA","w":17500,"s":0.0210},{"e":"HERA","w":26600,"s":0.0218},{"e":"HERA","w":40300,"s":0.0227},{"e":"HERA","w":61300,"s":0.0236},{"e":"HERA","w":85700,"s":0.0246},
{"e":"HERA","w":497,"s":0.00346},{"e":"HERA","w":755,"s":0.00440},{"e":"HERA","w":1150,"s":0.00516},{"e":"HERA","w":1750,"s":0.00582},{"e":"HERA","w":2650,"s":0.00631},{"e":"HERA","w":4030,"s":0.00683},{"e":"HERA","w":6120,"s":0.00741},{"e":"HERA","w":9310,"s":0.00771},{"e":"HERA","w":14200,"s":0.00803},{"e":"HERA","w":21500,"s":0.00836},{"e":"HERA","w":32700,"s":0.00869},{"e":"HERA","w":49700,"s":0.00905},{"e":"HERA","w":75500,"s":0.00942},
{"e":"HERA","w":277,"s":0.000313,"lo":0.000227,"hi":0.000414},{"e":"HERA","w":588,"s":0.000725,"lo":0.000527,"hi":0.000999},{"e":"HERA","w":639,"s":0.000851},{"e":"HERA","w":755,"s":0.00108},{"e":"HERA","w":1150,"s":0.00143},{"e":"HERA","w":1750,"s":0.00175},{"e":"HERA","w":2650,"s":0.00198},{"e":"HERA","w":4030,"s":0.00214},{"e":"HERA","w":6120,"s":0.00232},{"e":"HERA","w":9310,"s":0.00251},{"e":"HERA","w":14200,"s":0.00272},{"e":"HERA","w":21500,"s":0.00295},{"e":"HERA","w":32700,"s":0.00319},{"e":"HERA","w":49700,"s":0.00332},{"e":"HERA","w":75500,"s":0.00360},
{"e":"HERA","w":356,"s":0.0000712,"lo":0.0000559,"hi":0.0000905},{"e":"HERA","w":403,"s":0.0000869,"lo":0.0000631,"hi":0.000115},{"e":"HERA","w":1013,"s":0.000256,"lo":0.000130,"hi":0.000340},{"e":"HERA","w":1100,"s":0.000186},{"e":"HERA","w":1200,"s":0.000301},{"e":"HERA","w":1750,"s":0.000414},{"e":"HERA","w":2650,"s":0.000506},{"e":"HERA","w":4030,"s":0.000571},{"e":"HERA","w":6120,"s":0.000618},{"e":"HERA","w":9310,"s":0.000697},{"e":"HERA","w":14200,"s":0.000785},{"e":"HERA","w":21500,"s":0.000886},{"e":"HERA","w":32700,"s":0.000999},{"e":"HERA","w":49700,"s":0.00113},{"e":"HERA","w":75500,"s":0.00127}
]
},
"encoding":{
"x":{"field":"w","type":"quantitative","scale":{"type":"log","domain":[1.98,4200000]},
 "axis":{"title":"W² [ GeV² ]","values":[2,3,4,5,6,7,8,9,10,20,30,40,50,60,70,80,90,100,200,300,400,500,600,700,800,900,1000,2000,3000,4000,5000,6000,7000,8000,9000,10000,20000,30000,40000,50000,60000,70000,80000,90000,100000,200000,300000,400000,500000,600000,700000,800000,900000,1000000,2000000,3000000,4000000],
 "labelExpr":"abs(log(datum.value)/LN10-round(log(datum.value)/LN10))<0.001 ? ['1','10','10²','10³','10⁴','10⁵','10⁶'][round(log(datum.value)/LN10)] : ''",
 "tickSize":{"condition":{"test":"abs(log(datum.value)/LN10-round(log(datum.value)/LN10))<0.001","value":-6},"value":-3},
 "tickColor":"black","tickWidth":1,"domainColor":"black","domainWidth":2,"labelFontSize":12,"labelFontWeight":"bold","labelColor":"black","labelPadding":12,"labelOverlap":false,"labelFlush":false,"labelBound":false,"grid":false,
 "titleFontSize":18,"titleFontWeight":"bold","titleColor":"black","titleAlign":"right","titleBaseline":"alphabetic","titleX":354,"titleY":35}},
"y":{"field":"s","type":"quantitative","scale":{"type":"log","domain":[0.00000313,1900]},
 "axis":{"title":"σᴾₗ₊ₜ · c [ barn ]","values":[0.000004,0.000005,0.000006,0.000007,0.000008,0.000009,0.00001,0.00002,0.00003,0.00004,0.00005,0.00006,0.00007,0.00008,0.00009,0.0001,0.0002,0.0003,0.0004,0.0005,0.0006,0.0007,0.0008,0.0009,0.001,0.002,0.003,0.004,0.005,0.006,0.007,0.008,0.009,0.01,0.02,0.03,0.04,0.05,0.06,0.07,0.08,0.09,0.1,0.2,0.3,0.4,0.5,0.6,0.7,0.8,0.9,1,2,3,4,5,6,7,8,9,10,20,30,40,50,60,70,80,90,100,200,300,400,500,600,700,800,900,1000],
 "labelExpr":"abs(log(datum.value)/LN10-round(log(datum.value)/LN10))<0.001 ? ['10⁻⁵','10⁻⁴','10⁻³','10⁻²','10⁻¹','1','10','10²','10³'][round(log(datum.value)/LN10)+5] : ''",
 "tickSize":{"condition":{"test":"abs(log(datum.value)/LN10-round(log(datum.value)/LN10))<0.001","value":-6},"value":-3},
 "tickColor":"black","tickWidth":1,"domainColor":"black","domainWidth":2,"labelFontSize":12,"labelFontWeight":"bold","labelColor":"black","labelPadding":12,"labelOverlap":false,"labelFlush":false,"labelBound":false,"grid":false,
 "titleFontSize":17,"titleFontWeight":"bold","titleColor":"black","titleAngle":-90,"titleAlign":"right","titleBaseline":"middle","titleX":-42,"titleY":-5}}
},
"layer":[
{"data":{"name":"curves"},"mark":{"type":"line","color":"black","strokeWidth":1.8,"interpolate":"monotone"},
 "encoding":{"detail":{"field":"q","type":"nominal"},"order":{"field":"w","type":"quantitative"},
  "strokeDash":{"datum":"GD11-P","scale":{"range":[[1,0]]},"legend":{"orient":"none","legendX":19,"legendY":12,"title":null,"symbolType":"stroke","symbolSize":230,"symbolStrokeWidth":1.8,"symbolStrokeColor":"black","labelFontSize":12,"labelFontWeight":"bold","labelColor":"black","labelOffset":6,"padding":0}}}},
{"data":{"name":"pts"},"transform":[{"filter":"isValid(datum.lo)"}],"mark":{"type":"rule","strokeWidth":1},
 "encoding":{"y":{"field":"lo","type":"quantitative"},"y2":{"field":"hi"},
  "stroke":{"field":"e","type":"nominal","scale":{"domain":["HERA","JLAB","real photon","BCDMS","E665","NMC","SLAC","HERMES"],"range":["#ff00ff","#ff00ff","#cc9900","#ff0000","#0000ff","#336600","#000000","#ff0000"]},"legend":{"orient":"none","legendX":227,"legendY":376,"title":null,"labelFontSize":11,"labelFontWeight":"bold","labelColor":"black","symbolSize":30,"symbolStrokeWidth":1.3,"rowPadding":4,"padding":0,"labelOffset":7}}}},
{"data":{"name":"pts"},"mark":{"type":"point","strokeWidth":1.2,"opacity":1,"fillOpacity":1},
 "encoding":{
  "shape":{"field":"e","type":"nominal","scale":{"domain":["HERA","JLAB","real photon","BCDMS","E665","NMC","SLAC","HERMES"],"range":["triangle-up","M-1,0L1,0M0,-1L0,1M-0.7,-0.7L0.7,0.7M-0.7,0.7L0.7,-0.7","diamond","cross","square","M0,-1L0.235,-0.324L0.951,-0.309L0.38,0.124L0.588,0.809L0,0.4L-0.588,0.809L-0.38,0.124L-0.951,-0.309L-0.235,-0.324Z","triangle-up","circle"]},"legend":{"orient":"none","legendX":227,"legendY":376,"title":null,"labelFontSize":11,"labelFontWeight":"bold","labelColor":"black","symbolSize":30,"symbolStrokeWidth":1.3,"rowPadding":4,"padding":0,"labelOffset":7}},
  "size":{"field":"e","type":"nominal","scale":{"domain":["HERA","JLAB","real photon","BCDMS","E665","NMC","SLAC","HERMES"],"range":[16,22,14,24,24,34,24,22]},"legend":null},
  "fill":{"field":"e","type":"nominal","scale":{"domain":["HERA","JLAB","real photon","BCDMS","E665","NMC","SLAC","HERMES"],"range":["#ff00ff","#ff00ff","transparent","#ff0000","white","#336600","transparent","white"]},"legend":{"orient":"none","legendX":227,"legendY":376,"title":null,"labelFontSize":11,"labelFontWeight":"bold","labelColor":"black","symbolSize":30,"symbolStrokeWidth":1.3,"rowPadding":4,"padding":0,"labelOffset":7}},
  "stroke":{"field":"e","type":"nominal","scale":{"domain":["HERA","JLAB","real photon","BCDMS","E665","NMC","SLAC","HERMES"],"range":["#ff00ff","#ff00ff","#cc9900","#ff0000","#0000ff","#336600","#000000","#ff0000"]},"legend":{"orient":"none","legendX":227,"legendY":376,"title":null,"labelFontSize":11,"labelFontWeight":"bold","labelColor":"black","symbolSize":30,"symbolStrokeWidth":1.3,"rowPadding":4,"padding":0,"labelOffset":7}}}},
{"data":{"name":"curves"},"transform":[{"filter":"isValid(datum.n)"}],"mark":{"type":"text","fontSize":12.5,"fontWeight":"bold","align":"center","baseline":"middle","dx":41,"dy":-4,"color":"black"},
 "encoding":{"text":{"field":"q","type":"nominal"}}},
{"data":{"name":"curves"},"transform":[{"filter":"isValid(datum.n)"}],"mark":{"type":"text","fontSize":12.5,"fontWeight":"bold","align":"right","baseline":"middle","dx":81,"dy":-4,"color":"black","text":"1.4"}},
{"data":{"name":"curves"},"transform":[{"filter":"isValid(datum.n)"}],"mark":{"type":"text","fontSize":8.5,"fontWeight":"bold","align":"left","baseline":"middle","dx":82,"dy":-9,"color":"black"},
 "encoding":{"text":{"field":"n","type":"nominal"}}},
{"data":{"values":[{"t":"⟨Q²⟩[GeV²]","w":370000,"s":1040},{"t":"c","w":2300000,"s":1040}]},"mark":{"type":"text","fontSize":12.5,"fontWeight":"bold","align":"center","baseline":"middle","color":"black"},
 "encoding":{"text":{"field":"t","type":"nominal"}}}
]
}
